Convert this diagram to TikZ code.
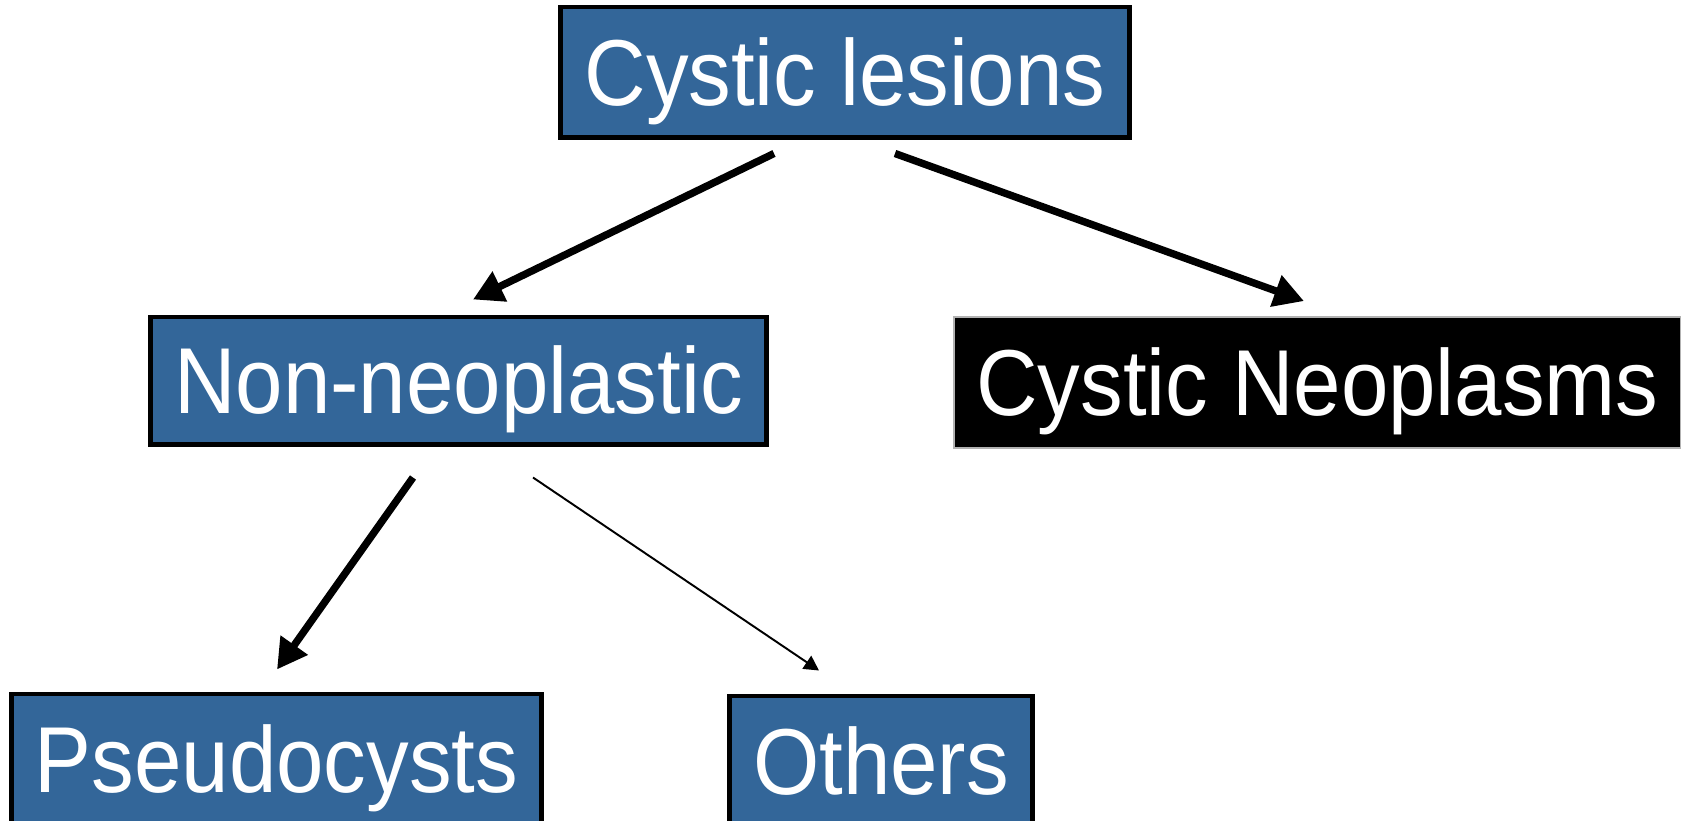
\documentclass[tikz,border=0pt]{standalone}
\usepackage{fontspec}
\usepackage{graphicx}
\setmainfont{Liberation Sans}
\usetikzlibrary{arrows.meta, positioning}
\definecolor{boxBlue}{HTML}{336699}
\newcommand{\tallword}[1]{\scalebox{1.01}[1.11]{#1}}
\tikzset{
  catbox/.style={draw=black, line width=1.4pt, fill=boxBlue, text=white,
                 inner sep=0pt, text height=19pt, text depth=0pt,
                 font=\fontsize{24}{28}\selectfont},
  bigarrow/.style={-{Triangle[length=8.5pt, width=9pt]}, line width=2.1pt},
  thinarrow/.style={-{Triangle[length=4.2pt, width=4.4pt]}, line width=0.55pt},
}
\begin{document}
\begin{tikzpicture}[x=0.01cm, y=-0.01cm]
\clip (0,0) rectangle (1681,821);
\fill[white] (0,0) rectangle (1681,821);
% top level
\node[catbox, minimum width=5.68cm, minimum height=1.30cm] (lesions) at (845,72) {\tallword{Cystic lesions}};
% second level
\node[catbox, minimum width=6.15cm, minimum height=1.27cm] (nonneo) at (458.5,380.5) {\tallword{Non-neoplastic}};
\node[catbox, draw=black!30, line width=0.5pt, fill=black,
      minimum width=7.27cm, minimum height=1.31cm] (neoplasms) at (1317.5,382.5) {\tallword{Cystic Neoplasms}};
% third level
\node[catbox, minimum width=5.29cm, minimum height=1.30cm] (pseudo) at (276.5,759) {\tallword{Pseudocysts}};
\node[catbox, minimum width=3.02cm, minimum height=1.30cm] (others) at (881,761) {\tallword{Others}};
% connectors
\draw[bigarrow] ([shift={(-71,14)}]lesions.south) -- ([shift={(14.5,-15)}]nonneo.north);
\draw[bigarrow] ([shift={(50,14)}]lesions.south) -- ([shift={(-13.5,-15)}]neoplasms.north);
\draw[bigarrow] ([shift={(-45.5,31)}]nonneo.south) -- ([shift={(0.5,-22)}]pseudo.north);
\draw[thinarrow] ([shift={(74.5,31)}]nonneo.south) -- ([shift={(-62,-23)}]others.north);
\end{tikzpicture}
\end{document}
